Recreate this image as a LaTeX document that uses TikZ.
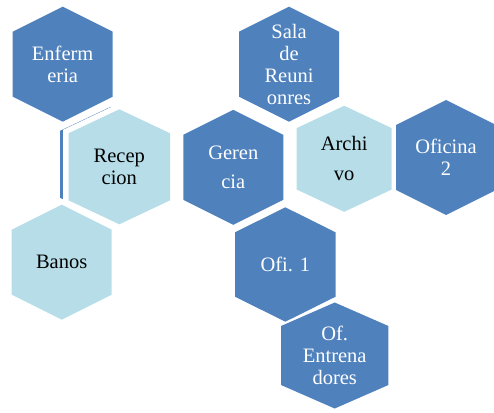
\documentclass[tikz,border=0pt]{standalone}
\usepackage{fontspec}
\setmainfont{Liberation Serif}
\definecolor{dk}{HTML}{4F81BD}
\definecolor{lt}{HTML}{B7DEE8}
\newcommand{\hexa}[6]{\path[#6] (#1,#2-#4) -- (#1+#3,#2-#4+#5) -- (#1+#3,#2+#4-#5) -- (#1,#2+#4) -- (#1-#3,#2+#4-#5) -- (#1-#3,#2-#4+#5) -- cycle;}
\tikzset{
  dkhex/.style={fill=dk},
  lthex/.style={fill=lt},
  wt/.style={text=white, align=center, font=\fontsize{20.5}{22}\selectfont, inner sep=0pt},
  bk/.style={wt, text=black},
}
\begin{document}
\begin{tikzpicture}[x=1pt,y=-1pt]
\useasboundingbox (0,0) rectangle (494,412);
% hexagons
\hexa{62.7}{64.2}{50}{57.5}{25}{dkhex}
\hexa{289}{64.2}{50}{57.5}{25}{dkhex}
\hexa{110.8}{164.3}{50.8}{57.5}{24}{dkhex}
\hexa{119.3}{166.8}{50.8}{57.5}{24}{draw=white,line width=11pt}
\hexa{119.3}{166.8}{50.8}{57.5}{24}{lthex}
\hexa{233.3}{167.3}{50}{57.5}{25}{dkhex}
\hexa{344.2}{158.8}{47.5}{53}{22.3}{lthex}
\hexa{446}{157.5}{50}{57.5}{25}{dkhex}
\hexa{61.7}{262.2}{50}{57.5}{25}{lthex}
\hexa{285.3}{264.5}{50.3}{57.2}{25}{dkhex}
\hexa{334.7}{355.5}{53.7}{53}{23.5}{dkhex}
% labels
\node[wt] (enf) at (62.7,64.2) {Enferm\\eria};
\node[wt] (sala) at (289,64.2) {Sala\\de\\Reuni\\onres};
\node[bk] (rec) at (119.3,166.8) {Recep\\cion};
\node[wt, font=\fontsize{20.5}{29}\selectfont] (ger) at (233.3,167.3) {Geren\\cia};
\node[bk, font=\fontsize{20.5}{30}\selectfont] (arch) at (344.2,158.8) {Archi\\vo};
\node[wt] (of2) at (446,157.5) {Oficina\\2};
\node[bk] (ban) at (61.7,262.2) {Banos};
\node[wt] (of1) at (285.3,264.5) {Ofi. 1};
\node[wt] (ent) at (334.7,355.5) {Of.\\Entrena\\dores};
\end{tikzpicture}
\end{document}
